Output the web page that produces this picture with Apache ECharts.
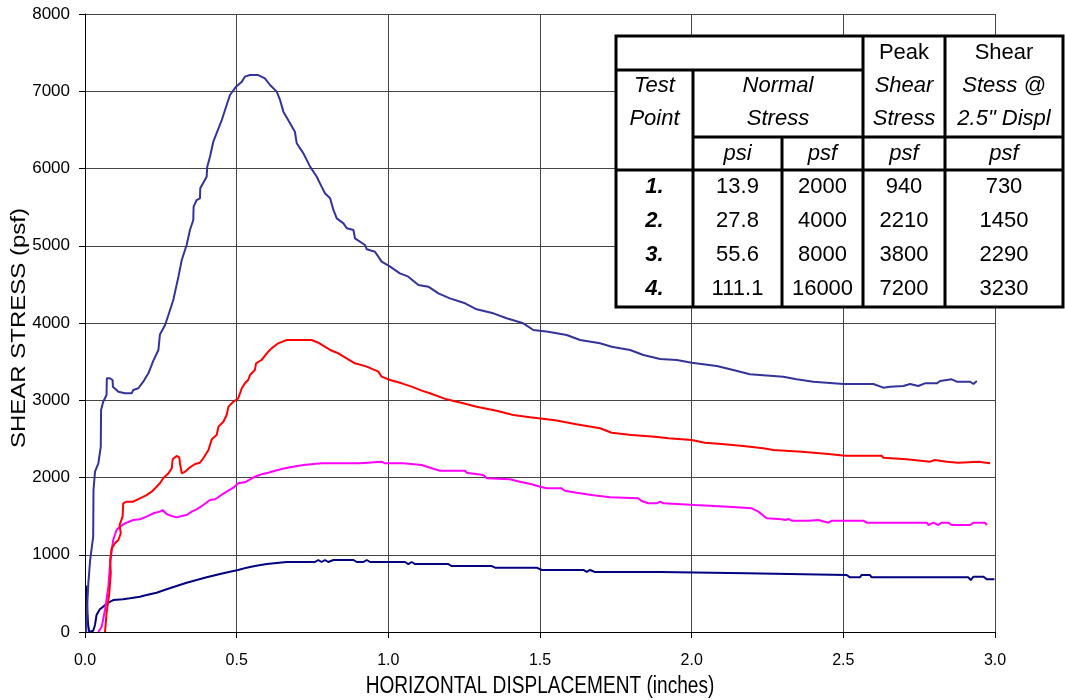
<!DOCTYPE html>
<html>
<head>
<meta charset="utf-8">
<script src="https://cdn.jsdelivr.net/npm/echarts/dist/echarts.min.js"></script>
<style>
html,body{margin:0;padding:0;background:#fff;}
#chart{width:1065px;height:700px;}
</style>
</head>
<body>
<div id="chart"></div>
<script>
// ---------- DATA ----------
const xTicks = [0.0, 0.5, 1.0, 1.5, 2.0, 2.5, 3.0];
const yTicks = [0, 1000, 2000, 3000, 4000, 5000, 6000, 7000, 8000];
const xTitle = 'HORIZONTAL DISPLACEMENT (inches)';
const yTitle = 'SHEAR STRESS (psf)';

// Test point 1 (2000 psf normal)
const tp1X = [0.004,0.010,0.014,0.027,0.033,0.038,0.049,0.060,0.077,0.093,0.126,0.148,0.181,0.203,0.236,0.269,0.302,0.335,0.368,0.401,0.445,0.478,0.505,0.533,0.560,0.599,0.665,0.758,0.769,0.780,0.791,0.802,0.819,0.885,0.896,0.918,0.929,0.940,1.055,1.066,1.077,1.088,1.198,1.209,1.341,1.352,1.489,1.506,1.643,1.654,1.665,1.681,1.896,1.901,2.181,2.187,2.511,2.522,2.555,2.560,2.588,2.593,2.912,2.920,2.929,2.962,2.973,2.998];
const tp1Y = [600,100,0,17,91,220,294,328,380,414,423,436,457,479,509,553,595,638,673,708,751,781,803,833,854,880,906,906,932,906,932,906,932,932,906,906,932,906,906,880,906,880,880,854,854,833,833,803,803,777,803,777,777,760,760,738,738,708,708,738,738,708,708,673,716,716,682,682];

// Test point 2 (4000 psf normal)
const tp2X = [0.044,0.055,0.066,0.077,0.082,0.088,0.093,0.104,0.115,0.132,0.159,0.181,0.203,0.225,0.247,0.256,0.269,0.286,0.302,0.319,0.335,0.352,0.368,0.390,0.412,0.429,0.445,0.467,0.489,0.505,0.527,0.550,0.566,0.582,0.604,0.627,0.648,0.676,0.720,0.780,0.907,0.912,0.978,0.989,1.049,1.055,1.110,1.116,1.143,1.170,1.253,1.258,1.313,1.324,1.401,1.434,1.473,1.500,1.522,1.571,1.582,1.621,1.670,1.731,1.824,1.835,1.857,1.885,1.896,1.907,2.011,2.121,2.198,2.220,2.247,2.297,2.308,2.319,2.330,2.385,2.390,2.418,2.451,2.462,2.566,2.577,2.775,2.781,2.797,2.813,2.824,2.846,2.857,2.918,2.929,2.967,2.973];
const tp2Y = [0,69,285,587,846,1061,1191,1320,1363,1407,1450,1459,1493,1536,1558,1579,1528,1502,1484,1502,1515,1558,1588,1644,1709,1718,1761,1816,1868,1925,1938,1990,2019,2041,2062,2088,2110,2132,2162,2184,2184,2205,2205,2184,2184,2162,2162,2140,2119,2088,2088,2062,2032,1990,1977,1946,1912,1881,1860,1860,1829,1803,1773,1744,1731,1696,1666,1666,1687,1666,1644,1622,1601,1558,1472,1459,1450,1463,1441,1441,1459,1450,1415,1441,1441,1415,1415,1385,1415,1385,1415,1415,1385,1385,1415,1415,1385];

// Test point 3 (8000 psf normal)
const tp3X = [0.066,0.071,0.080,0.085,0.083,0.088,0.099,0.110,0.118,0.114,0.124,0.126,0.137,0.159,0.181,0.203,0.220,0.236,0.247,0.258,0.275,0.286,0.289,0.302,0.311,0.313,0.319,0.330,0.346,0.363,0.379,0.390,0.407,0.418,0.434,0.440,0.456,0.467,0.473,0.489,0.505,0.517,0.527,0.538,0.544,0.560,0.564,0.582,0.604,0.615,0.637,0.665,0.747,0.769,0.808,0.835,0.890,0.929,0.967,0.978,1.006,1.044,1.077,1.110,1.137,1.192,1.247,1.291,1.357,1.412,1.467,1.550,1.620,1.698,1.736,1.802,1.879,1.923,2.000,2.044,2.099,2.170,2.236,2.269,2.363,2.451,2.506,2.626,2.632,2.709,2.786,2.802,2.841,2.879,2.945,2.951,2.984];
const tp3Y = [0,242,501,760,932,1083,1148,1191,1278,1385,1493,1666,1687,1687,1731,1773,1816,1881,1925,1990,2054,2119,2236,2278,2261,2184,2054,2075,2132,2175,2192,2249,2356,2494,2550,2658,2722,2809,2917,2981,3025,3155,3219,3262,3327,3392,3478,3521,3628,3672,3737,3780,3780,3745,3651,3608,3478,3435,3370,3305,3262,3219,3176,3124,3090,3012,2960,2917,2865,2809,2779,2740,2690,2637,2580,2550,2528,2507,2485,2450,2434,2408,2378,2356,2334,2304,2282,2282,2256,2235,2205,2227,2205,2192,2205,2184,2184];

// Test point 4 (16000 psf normal)
const tp4X = [0.004,0.008,0.011,0.017,0.027,0.028,0.033,0.044,0.052,0.053,0.060,0.071,0.072,0.082,0.091,0.092,0.110,0.132,0.154,0.159,0.176,0.192,0.209,0.225,0.242,0.247,0.264,0.275,0.291,0.308,0.319,0.335,0.346,0.357,0.358,0.368,0.379,0.380,0.401,0.403,0.412,0.423,0.436,0.451,0.467,0.478,0.498,0.517,0.527,0.544,0.571,0.593,0.610,0.632,0.643,0.654,0.676,0.692,0.698,0.720,0.742,0.764,0.780,0.791,0.808,0.819,0.830,0.852,0.863,0.885,0.890,0.923,0.929,0.956,0.978,1.006,1.038,1.066,1.099,1.132,1.165,1.203,1.253,1.291,1.346,1.390,1.445,1.478,1.527,1.588,1.632,1.698,1.736,1.797,1.841,1.896,1.951,2.000,2.083,2.137,2.192,2.302,2.346,2.401,2.500,2.599,2.632,2.654,2.698,2.720,2.747,2.769,2.808,2.819,2.857,2.874,2.918,2.929,2.940];
const tp4Y = [0,400,630,932,1234,1838,2075,2184,2399,2874,2981,3068,3284,3284,3262,3176,3111,3090,3090,3133,3155,3240,3349,3510,3651,3850,3974,4104,4298,4600,4816,5010,5204,5333,5506,5592,5614,5744,5894,6024,6153,6347,6476,6628,6822,6951,7059,7124,7189,7210,7210,7167,7081,6995,6887,6736,6585,6476,6326,6196,6024,5894,5765,5679,5614,5463,5355,5290,5226,5204,5096,5010,4954,4923,4794,4729,4643,4600,4492,4470,4384,4319,4255,4177,4125,4061,3996,3909,3887,3845,3780,3737,3693,3651,3586,3534,3521,3486,3443,3392,3336,3305,3271,3240,3210,3210,3163,3176,3185,3210,3185,3219,3219,3249,3271,3240,3240,3210,3249];

// Table contents
const testPoints = ['1.', '2.', '3.', '4.'];
const normalPsi = ['13.9', '27.8', '55.6', '111.1'];
const normalPsf = ['2000', '4000', '8000', '16000'];
const peakShear = ['940', '2210', '3800', '7200'];
const shearAt25 = ['730', '1450', '2290', '3230'];

// ---------- CHART ----------
const FONT = "'Liberation Sans', Arial, sans-serif";
const zip = (xs, ys) => xs.map((x, i) => [x, ys[i]]);

const chart = echarts.init(document.getElementById('chart'), null, {renderer: 'canvas'});

// table geometry
const L = 616, R = 1063, T = 36, B = 307;
const c1 = 693, c2 = 782, c3 = 863, c4 = 945;
const r1 = 70, r2 = 137, r3 = 170;
const colC = [(L + c1) / 2, (c1 + c2) / 2, (c2 + c3) / 2, (c3 + c4) / 2, (c4 + R) / 2];
const TF = 22;

const gfx = [];
gfx.push({type: 'rect', z: 100, shape: {x: L, y: T, width: R - L, height: B - T},
  style: {fill: '#fff', stroke: '#000', lineWidth: 3}});
[[L, r1, c3, r1], [c1, r2, R, r2], [L, r3, R, r3], [c1, r1, c1, B], [c2, r2, c2, B], [c3, T, c3, B], [c4, T, c4, B]]
  .forEach(s => gfx.push({type: 'line', z: 101, shape: {x1: s[0], y1: s[1], x2: s[2], y2: s[3]},
    style: {stroke: '#000', lineWidth: 3}}));
function txt(t, x, y, italic, bold) {
  gfx.push({type: 'text', z: 102, x: x, y: y, style: {text: t, fill: '#000',
    font: (italic ? 'italic ' : '') + (bold ? 'bold ' : '') + TF + 'px ' + FONT,
    textAlign: 'center', textVerticalAlign: 'middle'}});
}
txt('Peak', colC[3], 53, false);
txt('Shear', colC[4], 53, false);
txt('Test', colC[0], 86, true);
txt('Point', colC[0], 119, true);
txt('Normal', (c1 + c3) / 2, 86, true);
txt('Stress', (c1 + c3) / 2, 119, true);
txt('Shear', colC[3], 86, true);
txt('Stress', colC[3], 119, true);
txt('Stess @', colC[4], 86, true);
txt('2.5" Displ', colC[4], 119, true);
txt('psi', colC[1], 154, true);
txt('psf', colC[2], 154, true);
txt('psf', colC[3], 154, true);
txt('psf', colC[4], 154, true);
const rowY = [187, 221, 255, 289];
testPoints.forEach((t, i) => {
  txt(t, colC[0], rowY[i], true, true);
  txt(normalPsi[i], colC[1], rowY[i]);
  txt(normalPsf[i], colC[2], rowY[i]);
  txt(peakShear[i], colC[3], rowY[i]);
  txt(shearAt25[i], colC[4], rowY[i]);
});

// axis titles (the original glyphs are horizontally condensed)
gfx.push({type: 'text', z: 50, x: 540, y: 687, scaleX: 0.83,
  style: {text: xTitle, fill: '#000', font: '23px ' + FONT, textAlign: 'center', textVerticalAlign: 'middle'}});
gfx.push({type: 'text', z: 50, x: 19, y: 328, rotation: Math.PI / 2, scaleY: 0.85,
  style: {text: yTitle, fill: '#000', font: '24px ' + FONT, textAlign: 'center', textVerticalAlign: 'middle'}});

function mk(name, xs, ys, color) {
  return {name: name, type: 'line', data: zip(xs, ys), showSymbol: false, symbol: 'none',
    lineStyle: {color: color, width: 2}, itemStyle: {color: color}, animation: false};
}

chart.setOption({
  animation: false,
  backgroundColor: '#fff',
  grid: {left: 85, top: 14, width: 910, height: 618, containLabel: false, outerBoundsMode: 'none'},
  xAxis: {
    type: 'value', min: xTicks[0], max: xTicks[xTicks.length - 1], interval: 0.5,
    axisLine: {show: true, onZero: false, lineStyle: {color: '#000', width: 1}},
    axisTick: {show: true, inside: false, length: 6, lineStyle: {color: '#000'}},
    axisLabel: {margin: 21, fontFamily: FONT, fontSize: 16, color: '#000', formatter: v => v.toFixed(1)},
    splitLine: {show: true, lineStyle: {color: '#444', width: 1}}
  },
  yAxis: {
    type: 'value', min: yTicks[0], max: yTicks[yTicks.length - 1], interval: 1000,
    axisLine: {show: true, onZero: false, lineStyle: {color: '#000', width: 1}},
    axisTick: {show: true, inside: false, length: 6, lineStyle: {color: '#000'}},
    axisLabel: {margin: 15, fontFamily: FONT, fontSize: 17, color: '#000', formatter: v => String(v)},
    splitLine: {show: true, lineStyle: {color: '#444', width: 1}}
  },
  series: [
    mk('1', tp1X, tp1Y, '#000080'),
    mk('2', tp2X, tp2Y, '#FF00FF'),
    mk('3', tp3X, tp3Y, '#FF0000'),
    mk('4', tp4X, tp4Y, '#333399')
  ],
  graphic: {elements: gfx}
});
</script>
</body>
</html>
